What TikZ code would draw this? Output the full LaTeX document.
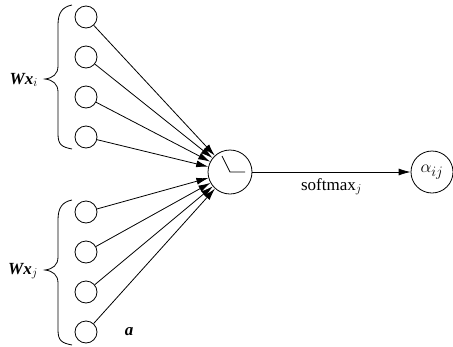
\documentclass[tikz,border=0pt]{standalone}
\usepackage{amsmath,amssymb,bm}
\usepackage{fontspec}
\setmainfont{Liberation Serif}
\usetikzlibrary{arrows.meta}

\tikzset{
  unit/.style={draw, circle, line width=0.8pt, minimum size=22pt, inner sep=0pt},
  wire/.style={line width=0.8pt, -{Latex[length=12pt,width=7pt]}},
  grp/.style={line width=0.8pt},
  lbl/.style={font=\fontsize{17}{20}\selectfont, inner sep=0pt},
}

\begin{document}
\begin{tikzpicture}[x=1pt, y=-1pt]
  \useasboundingbox (0,0) rectangle (453,346);

  % inputs
  \node[unit] (x1) at (86,17)  {};
  \node[unit] (x2) at (86,57)  {};
  \node[unit] (x3) at (86,97)  {};
  \node[unit] (x4) at (86,137) {};
  \node[unit] (x5) at (86,212) {};
  \node[unit] (x6) at (86,252) {};
  \node[unit] (x7) at (86,292) {};
  \node[unit] (x8) at (86,332) {};

  \node[unit, minimum size=44pt] (att) at (230,172) {};
  \node[unit, minimum size=42pt, lbl] (alpha) at (432,172) {\fontsize{19}{20}\selectfont$\alpha_{ij}$};

  % braces
  \draw[grp] (72,5) .. controls (62,7) and (58,13) .. (58,25) -- (58,66)
    .. controls (58,74) and (53,78) .. (45,79) .. controls (53,80) and (58,84) .. (58,92)
    -- (58,134) .. controls (58,145) and (62,147) .. (72,149);
  \draw[grp] (72,200) .. controls (62,202) and (58,208) .. (58,220) -- (58,257)
    .. controls (58,265) and (53,269) .. (45,270) .. controls (53,271) and (58,275) .. (58,283)
    -- (58,330) .. controls (58,341) and (62,343) .. (72,345);

  \node[lbl, anchor=east] (wxi) at (38,80)  {\textbf{\textit{Wx}}$_{i}$};
  \node[lbl, anchor=east] (wxj) at (38,271) {\textbf{\textit{Wx}}$_{j}$};
  \node[lbl] (a) at (129,332) {\textbf{\textit{a}}};

  \draw[wire] (x1) -- (att);
  \draw[wire] (x2) -- (att);
  \draw[wire] (x3) -- (att);
  \draw[wire] (x4) -- (att);
  \draw[wire] (x5) -- (att);
  \draw[wire] (x6) -- (att);
  \draw[wire] (x7) -- (att);
  \draw[wire] (x8) -- (att);

  % hands
  \draw[line width=0.8pt] ([shift={(-8,-16)}]att.center) -- (att.center) -- ([shift={(15,0)}]att.center);

  \draw[wire] (att) -- node[lbl, below=6pt] (sm) {softmax$_{j}$} (alpha);
\end{tikzpicture}
\end{document}
